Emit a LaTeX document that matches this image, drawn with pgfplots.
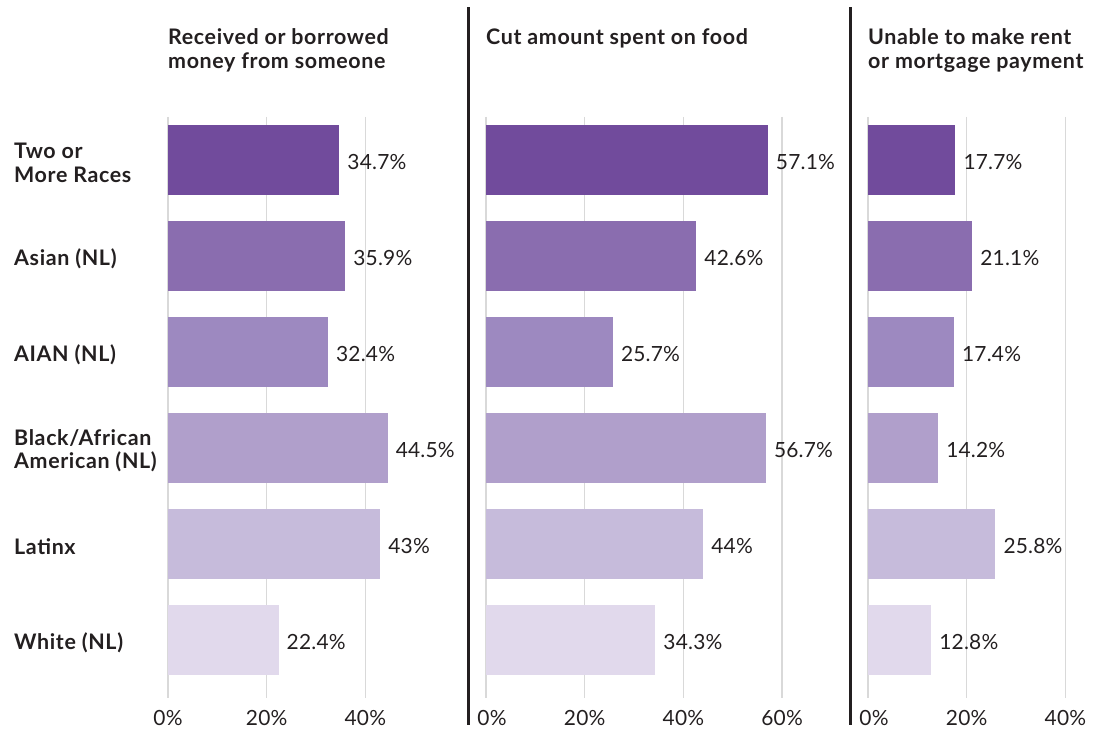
\documentclass[border=0pt]{standalone}
\usepackage{fontspec}
\setmainfont{Lato}[LetterSpace=1, BoldFeatures={LetterSpace=3}]
\usepackage{pgfplots}
\pgfplotsset{compat=1.18}

\definecolor{txt}{HTML}{231F20}
\definecolor{gridgray}{HTML}{D9D9D9}
\definecolor{rowA}{HTML}{714B9C}
\definecolor{rowB}{HTML}{8A6DAF}
\definecolor{rowC}{HTML}{9D89C0}
\definecolor{rowD}{HTML}{B09FCB}
\definecolor{rowE}{HTML}{C6BBDB}
\definecolor{rowF}{HTML}{E1D9EC}

\newcommand{\lbl}{\fontsize{21}{23}\selectfont}
\newcommand{\blbl}{\fontsize{21.5}{23.5}\selectfont\bfseries}

\pgfplotsset{
  panel/.style={
    xbar, bar width=70bp,
    every axis plot/.append style={bar shift=0pt, draw=none},
    x=4.935bp, y=96bp, y dir=reverse,
    ymin=-0.45, ymax=5.6, xmin=0,
    anchor=origin,
    axis line style={draw=none},
    major tick length=0pt, tick style={draw=none},
    xmajorgrids=true, ymajorgrids=false,
    grid style={draw=gridgray, line width=1.4bp},
    ytick=\empty,
    /pgf/number format/assume math mode=true,
    xticklabel={\pgfmathprintnumber{\tick}\%},
    xticklabel style={font=\lbl, text=txt, anchor=base, inner sep=0pt, yshift=-28bp},
    point meta=x,
    nodes near coords={\pgfmathprintnumber{\pgfplotspointmeta}\%},
    nodes near coords style={font=\lbl, text=txt, anchor=west, inner sep=0pt,
      xshift=8bp, yshift=-2bp},
    every axis title shift=0pt,
    title style={at={(0,1)}, anchor=north west, align=left, inner sep=0pt,
      font=\blbl, text=txt, yshift=88bp},
    clip=false,
  },
  % the 0% label sits a little right of its gridline, clear of the divider
  shiftzero/.style={
    xticklabel={\ifnum\ticknum=0 \hspace*{12bp}\fi\pgfmathprintnumber{\tick}\%},
  },
}

\begin{document}
\begin{tikzpicture}
\useasboundingbox (0,0) rectangle (1101bp,-729bp);

% Panel 1
\begin{axis}[panel, at={(168bp,-160bp)}, xmax=40, xtick={0,20,40},
  title={Received or borrowed\\money from someone},
  ytick={0,1,2,3,4,5},
  yticklabels={{Two or\\More Races},{Asian (NL)},{AIAN (NL)},{Black/African\\American (NL)},{Latinx},{White (NL)}},
  yticklabel style={anchor=west, xshift=-154bp, yshift=-3bp, align=left,
    inner sep=0pt, font=\blbl, text=txt},
]
\addplot[fill=rowA] coordinates {(34.7,0)};
\addplot[fill=rowB] coordinates {(35.9,1)};
\addplot[fill=rowC] coordinates {(32.4,2)};
\addplot[fill=rowD] coordinates {(44.5,3)};
\addplot[fill=rowE] coordinates {(43,4)};
\addplot[fill=rowF] coordinates {(22.4,5)};
\end{axis}

% Panel 2
\begin{axis}[panel, shiftzero, at={(486bp,-160bp)}, xmax=60, xtick={0,20,40,60},
  title={Cut amount spent on food},
]
\addplot[fill=rowA] coordinates {(57.1,0)};
\addplot[fill=rowB] coordinates {(42.6,1)};
\addplot[fill=rowC] coordinates {(25.7,2)};
\addplot[fill=rowD] coordinates {(56.7,3)};
\addplot[fill=rowE] coordinates {(44,4)};
\addplot[fill=rowF] coordinates {(34.3,5)};
\end{axis}

% Panel 3
\begin{axis}[panel, shiftzero, at={(868bp,-160bp)}, xmax=40, xtick={0,20,40},
  title={Unable to make rent\\or mortgage payment},
]
\addplot[fill=rowA] coordinates {(17.7,0)};
\addplot[fill=rowB] coordinates {(21.1,1)};
\addplot[fill=rowC] coordinates {(17.4,2)};
\addplot[fill=rowD] coordinates {(14.2,3)};
\addplot[fill=rowE] coordinates {(25.8,4)};
\addplot[fill=rowF] coordinates {(12.8,5)};
\end{axis}

% panel dividers
\draw[txt, line width=3bp] (468bp,-7bp) -- (468bp,-725bp);
\draw[txt, line width=3bp] (850bp,-7bp) -- (850bp,-725bp);
\end{tikzpicture}
\end{document}
